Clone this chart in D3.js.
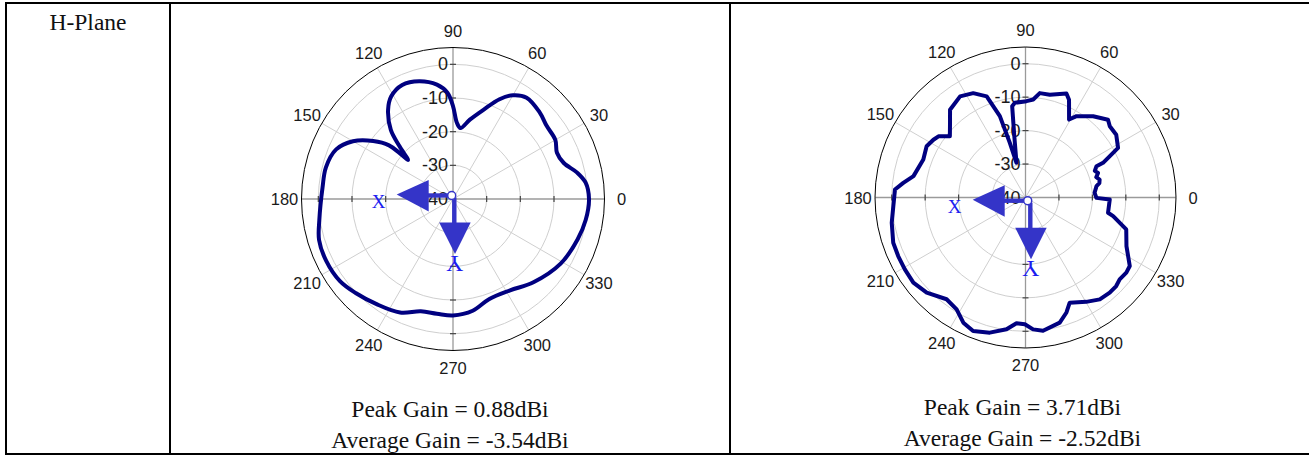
<!DOCTYPE html>
<html>
<head>
<meta charset="utf-8">
<script src="https://cdn.jsdelivr.net/npm/d3@7"></script>
<style>
  body { margin: 0; background: #fff; }
  svg { display: block; }
</style>
</head>
<body>
<svg id="chart" width="1309" height="457"></svg>
<script>
// Polar grid ticks
const angleTicks = [0, 30, 60, 90, 120, 150, 180, 210, 240, 270, 300, 330];
const ringTicks = [0, -10, -20, -30, -40];

// Pattern 1: angle (deg) and gain (dB)
const angles1 = [0, 7, 12, 18, 24, 30, 38, 45, 54, 60, 65, 71, 78, 84, 87, 90, 93, 98, 106, 114,
  121, 126, 132, 135.5, 139, 139.3, 140, 144, 150, 157, 166, 175, 189, 197, 206, 216, 224, 234,
  245, 254, 262, 270, 280, 290, 302, 314, 329, 342, 351];
const gain1 = [0.4, -0.3, -2.3, -5.4, -6.2, -4.9, -4.7, -3.6, -2.8, -4.4, -7.3, -11.9, -15.9, -18.8,
  -17.4, -12.4, -8.4, -5.7, -3.6, -2.9, -4.4, -7.2, -12.4, -17.8, -22.3, -19.1, -15.2, -10.7, -5.7,
  -2.3, -1.1, -1.1, 0.2, 1.6, 1.9, 1.5, 0.2, -1.4, -2.8, -5.3, -5.6, -5.4, -6.3, -8.4, -8.0, -5.6,
  -2.7, -1.1, -0.1];

// Pattern 2: angle (deg) and gain (dB)
const angles2 = [3.9, 9.1, 11, 13.6, 16, 18.7, 21, 23.8, 24.1, 26.1, 28.2, 34.7, 40.2, 43.3, 50.2,
  57.9, 60.8, 66, 68.5, 76.7, 82.2, 85.5, 89.4, 96.4, 98.3, 100.2, 104.6, 106, 107.5, 111, 116.6,
  122.9, 130.7, 135.4, 141, 144.9, 147.9, 152.6, 159.6, 169.2, 173.2, 176.5, 183.7, 190.7, 198.9,
  204.7, 210.8, 217.2, 223.9, 232.2, 238.4, 243.6, 248.6, 255.2, 261.8, 265.9, 269.7, 273.3, 277.5,
  285.3, 289.6, 292.8, 300.2, 306.1, 311.5, 315.7, 319, 323.3, 326.7, 334.3, 342.4, 348, 349.5,
  358.6, 359.7];
const gain2 = [-19.3, -18.5, -17.5, -17.2, -18.0, -17.1, -17.8, -16.8, -14.6, -12.0, -8.6, -7.0,
  -7.0, -6.1, -8.4, -11.3, -13.3, -8.0, -6.6, -8.4, -8.5, -10.6, -11.2, -11.5, -12.4, -20.9, -29.3,
  -23.0, -14.5, -7.6, -5.1, -4.0, -5.4, -8.3, -10.9, -8.2, -7.5, -6.7, -7.4, -5.9, -3.2, -0.9, -0.4,
  0.7, 1.8, 1.9, 2.0, 2.1, 1.0, -1.5, -0.7, 1.8, 2.9, 1.8, -0.2, -2.3, -2.1, -0.5, 0.2, -1.2, -3.5,
  -5.9, -3.9, -2.3, -2.0, -2.1, -2.7, -2.4, -2.7, -6.5, -8.4, -13.2, -14.9, -14.8, -18.8];

const rowLabel = "H-Plane";
const captions1 = ["Peak Gain = 0.88dBi", "Average Gain = -3.54dBi"];
const captions2 = ["Peak Gain = 3.71dBi", "Average Gain = -2.52dBi"];

const svg = d3.select("#chart");
const SANS = "'Liberation Sans', Arial, sans-serif";
const SERIF = "'Liberation Serif', 'Times New Roman', serif";
const ARROW = "#3434c8";
const LABEL_BLUE = "#1c1cf0";

// Table frame
const frame = svg.append("g").attr("stroke", "#000").attr("stroke-width", 2);
frame.append("line").attr("x1", 5).attr("x2", 1309).attr("y1", 3).attr("y2", 3);
frame.append("line").attr("x1", 5).attr("x2", 1309).attr("y1", 454).attr("y2", 454);
[6, 170, 730].forEach(x => frame.append("line").attr("x1", x).attr("x2", x).attr("y1", 2).attr("y2", 455));

svg.append("text").attr("x", 88).attr("y", 29.5).attr("text-anchor", "middle")
  .attr("font-family", SERIF).attr("font-size", 23.5).attr("fill", "#111").text(rowLabel);

function polar(cx, cy, R, angles, gains, origin, captions, capY, smooth) {
  const g = svg.append("g").attr("transform", `translate(${cx},${cy})`);
  const r = d3.scaleLinear().domain([-40, 5]).range([0, R]);
  const rad = d => d * Math.PI / 180;

  // rings
  ringTicks.filter(d => d > -40).forEach(d => {
    g.append("circle").attr("r", r(d)).attr("fill", "none").attr("stroke", "#cfcfcf").attr("stroke-width", 1);
  });
  // spokes
  angleTicks.forEach(a => {
    const main = a % 90 === 0;
    g.append("line").attr("x1", 0).attr("y1", 0)
      .attr("x2", R * Math.cos(rad(a))).attr("y2", -R * Math.sin(rad(a)))
      .attr("stroke", main ? "#9a9a9a" : "#cfcfcf").attr("stroke-width", main ? 1.3 : 1);
  });
  // ticks on the main axes
  ringTicks.filter(d => d > -40).forEach(d => {
    [0, 90, 180, 270].forEach(a => {
      const x = r(d) * Math.cos(rad(a)), y = -r(d) * Math.sin(rad(a));
      const px = -Math.sin(rad(a)) * 3, py = -Math.cos(rad(a)) * 3;
      g.append("line").attr("x1", x - px).attr("y1", y - py).attr("x2", x + px).attr("y2", y + py)
        .attr("stroke", "#444").attr("stroke-width", 1.2);
    });
  });
  g.append("circle").attr("r", R).attr("fill", "none").attr("stroke", "#000").attr("stroke-width", 1);

  // angle labels
  angleTicks.forEach(a => {
    g.append("text").attr("x", (R + 17) * Math.cos(rad(a))).attr("y", -(R + 17) * Math.sin(rad(a)))
      .attr("text-anchor", "middle").attr("dominant-baseline", "central")
      .attr("font-family", SANS).attr("font-size", 16.5).attr("fill", "#1a1a1a").text(a);
  });
  // radial labels
  ringTicks.forEach(d => {
    g.append("text").attr("x", -5).attr("y", -r(d)).attr("text-anchor", "end")
      .attr("dominant-baseline", "central").attr("font-family", SANS).attr("font-size", 18)
      .attr("fill", "#1a1a1a").text(d);
  });

  // pattern trace
  const pts = angles.map((a, i) => [a, gains[i]]);
  const line = d3.lineRadial()
    .angle(d => rad(90 - d[0]))
    .radius(d => r(d[1]))
    .curve(smooth ? d3.curveCatmullRomClosed.alpha(0.5) : d3.curveLinearClosed);
  g.append("path").attr("d", line(pts)).attr("fill", "none").attr("stroke", "#000080")
    .attr("stroke-width", 4).attr("stroke-linejoin", "round");

  // coordinate axes marker
  const a = g.append("g").attr("transform", `translate(${origin[0]},${origin[1]})`);
  a.append("rect").attr("x", -24).attr("y", -2.2).attr("width", 22).attr("height", 4.4).attr("fill", ARROW);
  a.append("polygon").attr("points", "-55,-1 -23,-15.5 -23,16").attr("fill", ARROW);
  a.append("rect").attr("x", 0.4).attr("y", 2).attr("width", 4.4).attr("height", 26).attr("fill", ARROW);
  a.append("polygon").attr("points", "-12.5,27 19,27 3.3,58.5").attr("fill", ARROW);
  a.append("circle").attr("r", 4).attr("fill", "#fff").attr("stroke", ARROW).attr("stroke-width", 1.5);
  a.append("text").attr("x", -73).attr("y", 6).attr("text-anchor", "middle").attr("dominant-baseline", "central")
    .attr("font-family", SERIF).attr("font-size", 19).attr("fill", LABEL_BLUE).text("X");
  a.append("text").attr("transform", "translate(3,68) rotate(180)").attr("text-anchor", "middle")
    .attr("dominant-baseline", "central").attr("font-family", SERIF).attr("font-size", 24)
    .attr("fill", LABEL_BLUE).text("Y");

  // captions
  captions.forEach((t, i) => {
    svg.append("text").attr("x", cx - 3).attr("y", capY[i]).attr("text-anchor", "middle")
      .attr("font-family", SERIF).attr("font-size", 23.5).attr("fill", "#111").text(t);
  });
}

polar(453, 199, 151.5, angles1, gain1, [-1.3, -3.5], captions1, [417, 448], true);
polar(1025.5, 197.5, 150.5, angles2, gain2, [2.2, 3.2], captions2, [415, 446], false);
</script>
</body>
</html>
